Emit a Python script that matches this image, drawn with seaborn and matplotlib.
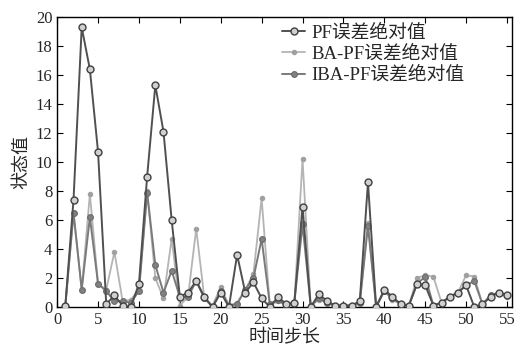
import numpy as np
import pandas as pd
import matplotlib
matplotlib.use("Agg")
import matplotlib.pyplot as plt
import seaborn as sns

steps = list(range(1, 56))
pf = [0.1, 7.4, 19.3, 16.4, 10.7, 0.2, 0.8, 0.1, 0.0, 1.6,
      9.0, 15.3, 12.1, 6.0, 0.7, 1.0, 1.8, 0.7, 0.0, 1.0,
      0.0, 3.6, 1.0, 1.7, 0.6, 0.0, 0.7, 0.2, 0.3, 6.9,
      0.0, 0.9, 0.4, 0.1, 0.1, 0.1, 0.4, 8.6, 0.0, 1.2,
      0.7, 0.2, 0.1, 1.6, 1.5, 0.1, 0.3, 0.7, 1.0, 1.5,
      0.0, 0.2, 0.7, 1.0, 0.8]
ba_pf = [0.1, 6.5, 1.2, 7.8, 1.6, 1.2, 3.8, 0.4, 0.5, 1.2,
         8.0, 2.0, 0.6, 4.7, 0.1, 0.7, 5.4, 0.6, 0.1, 1.4,
         0.1, 0.3, 1.2, 2.3, 7.5, 0.1, 0.4, 0.1, 0.3, 10.2,
         0.1, 0.5, 0.3, 0.1, 0.1, 0.1, 0.3, 5.8, 0.1, 1.1,
         0.5, 0.2, 0.1, 2.0, 2.2, 2.1, 0.3, 0.7, 1.0, 2.2,
         2.1, 0.2, 0.8, 1.0, 0.7]
iba_pf = [0.1, 6.5, 1.2, 6.2, 1.6, 1.1, 0.4, 0.4, 0.3, 1.1,
          7.9, 2.9, 1.0, 2.5, 0.7, 0.7, 1.8, 0.6, 0.0, 1.1,
          0.1, 0.2, 1.2, 2.0, 4.7, 0.2, 0.5, 0.1, 0.3, 5.7,
          0.1, 0.6, 0.3, 0.1, 0.1, 0.1, 0.3, 5.6, 0.0, 1.1,
          0.6, 0.2, 0.1, 1.6, 2.1, 0.1, 0.3, 0.7, 1.0, 1.5,
          1.8, 0.2, 0.8, 1.0, 0.8]
labels = ["PF误差绝对值", "BA-PF误差绝对值", "IBA-PF误差绝对值"]
x_ticks = list(range(0, 56, 5))
y_ticks = list(range(0, 21, 2))

sns.set_style("ticks")
plt.rcParams['font.family'] = ['Liberation Serif', 'Noto Sans CJK SC', 'DejaVu Sans']
plt.rcParams['axes.unicode_minus'] = False

fig = plt.figure(figsize=(5.15, 3.57), dpi=100)
ax = fig.add_axes([0.111, 0.14, 0.883, 0.812])

sns.lineplot(x=steps, y=pf, ax=ax, color="#505050", linewidth=1.4,
             marker="o", markersize=5, markerfacecolor="#d0d0d0",
             markeredgecolor="#404040", markeredgewidth=1.0,
             label=labels[0], zorder=4)
sns.lineplot(x=steps, y=ba_pf, ax=ax, color="#b4b4b4", linewidth=1.3,
             marker="o", markersize=3.2, markerfacecolor="#a0a0a0",
             markeredgecolor="#a0a0a0", label=labels[1], zorder=2)
sns.lineplot(x=steps, y=iba_pf, ax=ax, color="#7a7a7a", linewidth=1.4,
             marker="o", markersize=4.2, markerfacecolor="#808080",
             markeredgecolor="#6a6a6a", label=labels[2], zorder=3)

ax.set_xlim(0, 55.6)
ax.set_ylim(0, 20)
ax.set_xticks(x_ticks)
ax.set_yticks(y_ticks)
ax.tick_params(direction="in", top=True, right=True, labelsize=12, length=4,
               color="black")
for s in ax.spines.values():
    s.set_color("black")
    s.set_linewidth(1.0)
ax.set_xlabel("时间步长", fontsize=13, labelpad=1)
ax.set_ylabel("状态值", fontsize=13, labelpad=4)

leg = ax.legend(loc="upper left", bbox_to_anchor=(0.478, 1.0), fontsize=13.5,
                frameon=False, borderaxespad=0, handlelength=1.25,
                handletextpad=0.3, labelspacing=0.2, borderpad=0.4)

fig.savefig("out.png", dpi=100)
